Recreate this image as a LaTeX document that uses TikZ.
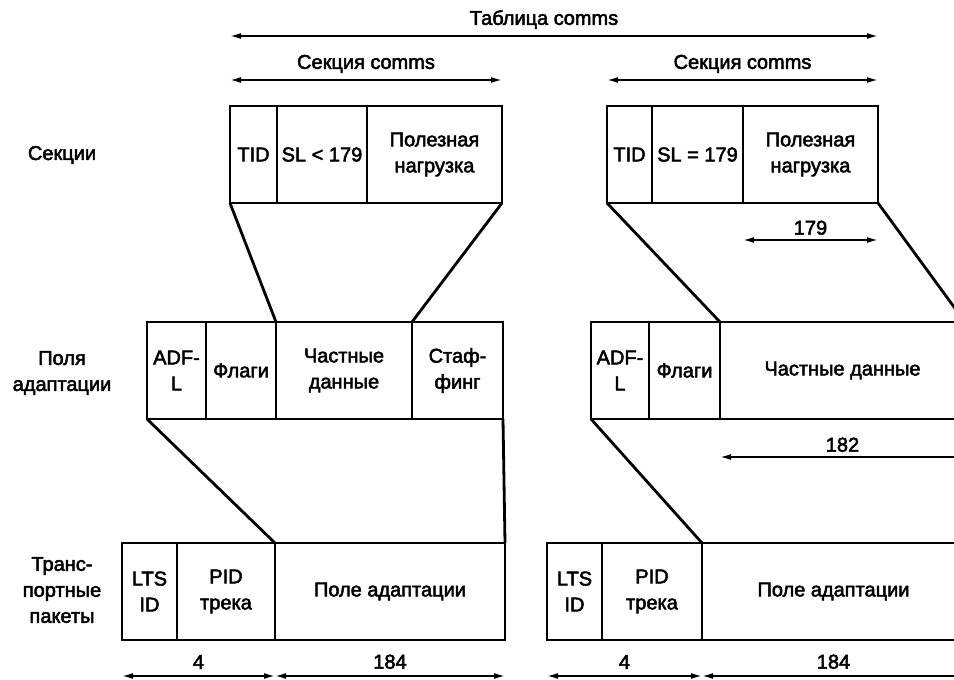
\documentclass[tikz,border=0pt]{standalone}
\usepackage{fontspec}
\setmainfont[FakeBold=2.5]{Liberation Sans}
\usetikzlibrary{arrows.meta, positioning}
\newcommand{\cellfont}{\fontsize{20}{26}\selectfont}

\begin{document}
\begin{tikzpicture}[x=1pt, y=-1pt, >={Latex[length=11pt, width=6pt]},
  cell/.style={draw, line width=2.8pt, minimum height=97pt, inner sep=1pt, outer sep=0pt, align=center, font=\cellfont},
  link/.style={line width=2.8pt},
  dim/.style={<->, line width=1.7pt},
  caption/.style={font=\cellfont, align=center}]

\useasboundingbox (0,0) rectangle (954,680);
\clip (0,0) rectangle (954,680);

% row captions
\node[caption] (capsec) at (62,155) {Секции};
\node[caption] (capadf) at (62,373) {Поля\\адаптации};
\node[caption] (capts) at (62,590) {Транс-\\портные\\пакеты};

% comms sections
\node[cell, minimum width=47pt, anchor=north west] (tidA) at (230,106) {TID};
\node[cell, minimum width=90pt, right=0pt of tidA] (slA) {SL < 179};
\node[cell, minimum width=135pt, right=0pt of slA] (payA) {Полезная\\нагрузка};

\node[cell, minimum width=45pt, anchor=north west] (tidB) at (607,106) {TID};
\node[cell, minimum width=91pt, right=0pt of tidB] (slB) {SL = 179};
\node[cell, minimum width=135pt, right=0pt of slB] (payB) {Полезная\\нагрузка};

% adaptation fields
\node[cell, minimum width=59pt, anchor=north west] (adfA) at (147,322) {ADF-\\L};
\node[cell, minimum width=70pt, right=0pt of adfA] (flagA) {Флаги};
\node[cell, minimum width=136pt, right=0pt of flagA] (privA) {Частные\\данные};
\node[cell, minimum width=91pt, right=0pt of privA] (stufA) {Стаф-\\финг};

\node[cell, minimum width=58pt, anchor=north west] (adfB) at (591,322) {ADF-\\L};
\node[cell, minimum width=71pt, right=0pt of adfB] (flagB) {Флаги};
\node[cell, minimum width=245pt, right=0pt of flagB] (privB) {Частные данные};

% transport packets
\node[cell, minimum width=55pt, anchor=north west] (ltsA) at (122,543) {LTS\\ID};
\node[cell, minimum width=98pt, right=0pt of ltsA] (pidA) {PID\\трека};
\node[cell, minimum width=230pt, right=0pt of pidA] (fieldA) {Поле адаптации};

\node[cell, minimum width=55pt, anchor=north west] (ltsB) at (547,543) {LTS\\ID};
\node[cell, minimum width=100pt, right=0pt of ltsB] (pidB) {PID\\трека};
\node[cell, minimum width=263pt, right=0pt of pidB] (fieldB) {Поле адаптации};

% mapping lines between the layers
\draw[link] (tidA.south west) -- (privA.north west);
\draw[link] (payA.south east) -- (stufA.north west);
\draw[link] (adfA.south west) -- (fieldA.north west);
\draw[link] (stufA.south east) -- (fieldA.north east);

\draw[link] (tidB.south west) -- (privB.north west);
\draw[link] (payB.south east) -- (privB.north east);
\draw[link] (adfB.south west) -- (fieldB.north west);
\draw[link] (privB.south east) -- (fieldB.north east);

% lengths
\draw[dim] ([yshift=70pt]tidA.north west) -- ([yshift=70pt]payB.north east) node[midway, above=3pt, caption, xshift=-10pt] (ttab) {Таблица comms};
\draw[dim] ([yshift=26pt]tidA.north west) -- ([yshift=26pt]payA.north east) node[midway, above=3pt, caption] (tsecA) {Секция comms};
\draw[dim] ([yshift=26pt]tidB.north west) -- ([yshift=26pt]payB.north east) node[midway, above=3pt, caption] (tsecB) {Секция comms};
\draw[dim] ([yshift=-37pt]payB.south west) -- ([yshift=-37pt]payB.south east) node[midway, above=1pt, caption] (t179) {179};
\draw[dim] ([yshift=-38pt]privB.south west) -- ([yshift=-38pt]privB.south east) node[midway, above=1pt, caption] (t182) {182};

\draw[dim] ([yshift=-36pt]ltsA.south west) -- ([yshift=-36pt]pidA.south east) node[midway, above=3pt, caption] (t4A) {4};
\draw[dim] ([yshift=-36pt]fieldA.south west) -- ([yshift=-36pt]fieldA.south east) node[midway, above=3pt, caption] (t184A) {184};
\draw[dim] ([yshift=-36pt]ltsB.south west) -- ([yshift=-36pt]pidB.south east) node[midway, above=3pt, caption] (t4B) {4};
\draw[dim] ([yshift=-36pt]fieldB.south west) -- ([yshift=-36pt]fieldB.south east) node[midway, above=3pt, caption] (t184B) {184};

\end{tikzpicture}
\end{document}
